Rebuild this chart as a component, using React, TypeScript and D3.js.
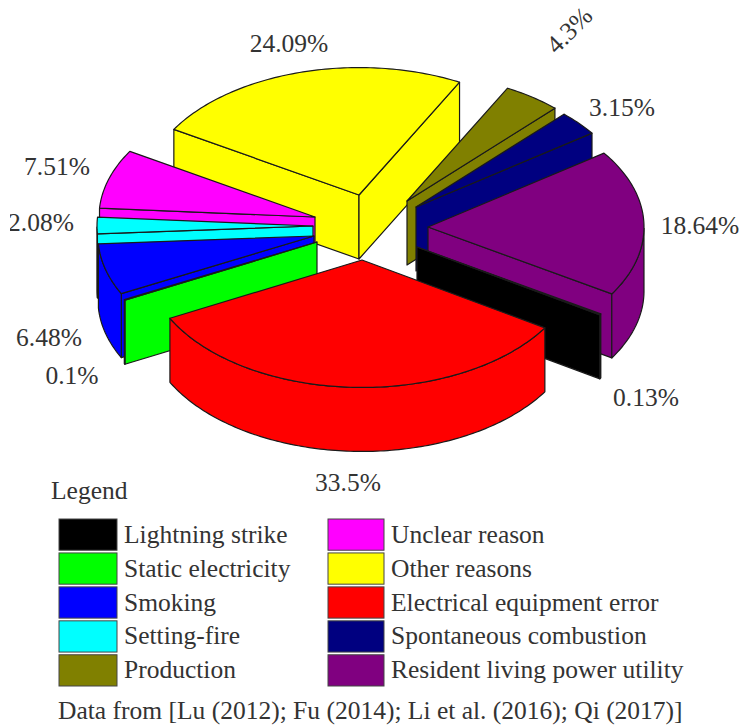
import React from "react";
import * as d3 from "d3";

// Fire causes, clockwise from the far-left edge of the largest rear wedge.
const categories = [
  "Other reasons",
  "Production",
  "Spontaneous combustion",
  "Resident living power utility",
  "Lightning strike",
  "Electrical equipment error",
  "Static electricity",
  "Smoking",
  "Setting-fire",
  "Unclear reason",
];
const shares = [24.09, 4.3, 3.15, 18.64, 0.13, 33.5, 0.1, 6.48, 2.08, 7.51];
const colors = ["#ffff00", "#808000", "#000080", "#800080", "#000000", "#ff0000", "#00ff00", "#0000ff", "#00ffff", "#ff00ff"];

// Wedges are painted far to near so that nearer walls cover the ones behind.
const paintOrder = [0, 1, 2, 3, 4, 9, 8, 7, 6, 5];

const legendLeft = ["Lightning strike", "Static electricity", "Smoking", "Setting-fire", "Production"];
const legendRight = ["Unclear reason", "Other reasons", "Electrical equipment error", "Spontaneous combustion", "Resident living power utility"];
const sourceNote = "Data from [Lu (2012); Fu (2014); Li et al. (2016); Qi (2017)]";

// Percent label anchors, in category order.
const labelSpots: [number, number, number][] = [
  [289, 43, 0],
  [569, 30, -45],
  [622, 107, 0],
  [700, 225, 0],
  [646, 397, 0],
  [348, 482, 0],
  [72, 375, 0],
  [49, 337, 0],
  [41, 222, 0],
  [57, 166, 0],
];
// Displacement of each exploded wedge from the pie centre.
const explode: [number, number][] = [
  [-1, -36],
  [47, -30],
  [56, -24],
  [68, -4],
  [57, 16],
  [2, 29],
  [-43, 11],
  [-46, 5],
  [-47, -5],
  [-45, -14],
];

const W = 741;
const H = 727;
const CX = 360;
const CY = 231;
const RADIUS = 216;
const TILT = 0.59;
const DEPTH = 64;
const START_DEG = -59;
const FONT = "'Liberation Serif', serif";
const INK = "#333333";
const EDGE = "#1a1a1a";
const TEXT_SIZE = 25.5;

const pieLayout = d3
  .pie<number>()
  .sort(null)
  .startAngle((START_DEG * Math.PI) / 180)
  .endAngle(((360 + START_DEG) * Math.PI) / 180);

const line = d3.line<[number, number]>();
const project = (ox: number, oy: number, a: number, r: number): [number, number] => [
  ox + r * Math.sin(a),
  oy - r * TILT * Math.cos(a),
];

function Wedge({ start, end, index }: { start: number; end: number; index: number }) {
  const ox = CX + explode[index][0];
  const oy = CY + explode[index][1];
  const fill = colors[index];
  const angles = d3.range(start, end, Math.PI / 180).concat(end);
  const rim = angles.map((a) => project(ox, oy, a, RADIUS));
  const apex: [number, number] = [ox, oy];
  const drop = (p: [number, number]): [number, number] => [p[0], p[1] + DEPTH];

  const faces: [number, number][][] = [];
  // Cut faces turned toward the viewer.
  if (Math.sin(start) < 0) {
    const c = rim[0];
    faces.push([apex, c, drop(c), drop(apex)]);
  }
  if (Math.sin(end) > 0) {
    const c = rim[rim.length - 1];
    faces.push([apex, c, drop(c), drop(apex)]);
  }
  // Outer wall: only the part of the rim on the near half of the ellipse.
  const near = angles
    .filter((a) => Math.cos(a) <= 0)
    .map((a) => project(ox, oy, a, RADIUS));
  if (near.length > 1) faces.push([...near, ...near.slice().reverse().map(drop)]);

  return (
    <g fill={fill} stroke={EDGE} strokeWidth={1.2} strokeLinejoin="round">
      {faces.map((f, i) => (
        <path key={i} d={line(f) + "Z"} />
      ))}
      <path d={line([apex, ...rim]) + "Z"} />
    </g>
  );
}

function LegendColumn({ names, boxX, boxW, textX }: { names: string[]; boxX: number; boxW: number; textX: number }) {
  const row = d3.scaleBand<string>().domain(names).range([519, 686]).paddingInner(0.08);
  return (
    <g>
      {names.map((n) => (
        <g key={n}>
          <rect
            x={boxX}
            y={row(n)}
            width={boxW}
            height={row.bandwidth()}
            fill={colors[categories.indexOf(n)]}
            stroke="#444"
            strokeWidth={1}
          />
          <text x={textX} y={(row(n) as number) + row.bandwidth() / 2 + 8} fontSize={TEXT_SIZE} fill={INK} fontFamily={FONT}>
            {n}
          </text>
        </g>
      ))}
    </g>
  );
}

export default function App() {
  const arcs = pieLayout(shares);
  return (
    <svg width={W} height={H} viewBox={`0 0 ${W} ${H}`} style={{ position: "absolute", left: 0, top: 0, background: "#fff" }}>
      <defs>
        <clipPath id="pageEdge">
          <rect x={10} y={0} width={W} height={H} />
        </clipPath>
      </defs>
      {paintOrder.map((i) => (
        <Wedge key={i} index={i} start={arcs[i].startAngle} end={arcs[i].endAngle} />
      ))}
      <g clipPath="url(#pageEdge)">
        {shares.map((s, i) => {
          const [x, y, rot] = labelSpots[i];
          return (
            <text
              key={i}
              x={x}
              y={y}
              dy="0.35em"
              textAnchor="middle"
              fontSize={TEXT_SIZE}
              fill={INK}
              fontFamily={FONT}
              transform={rot ? `rotate(${rot} ${x} ${y})` : undefined}
            >
              {s}%
            </text>
          );
        })}
      </g>
      <text x={51} y={499} fontSize={TEXT_SIZE} fill={INK} fontFamily={FONT}>
        Legend
      </text>
      <LegendColumn names={legendLeft} boxX={59} boxW={58} textX={124} />
      <LegendColumn names={legendRight} boxX={328} boxW={56} textX={391} />
      <text x={58} y={719} fontSize={TEXT_SIZE} fill={INK} fontFamily={FONT}>
        {sourceNote}
      </text>
    </svg>
  );
}
